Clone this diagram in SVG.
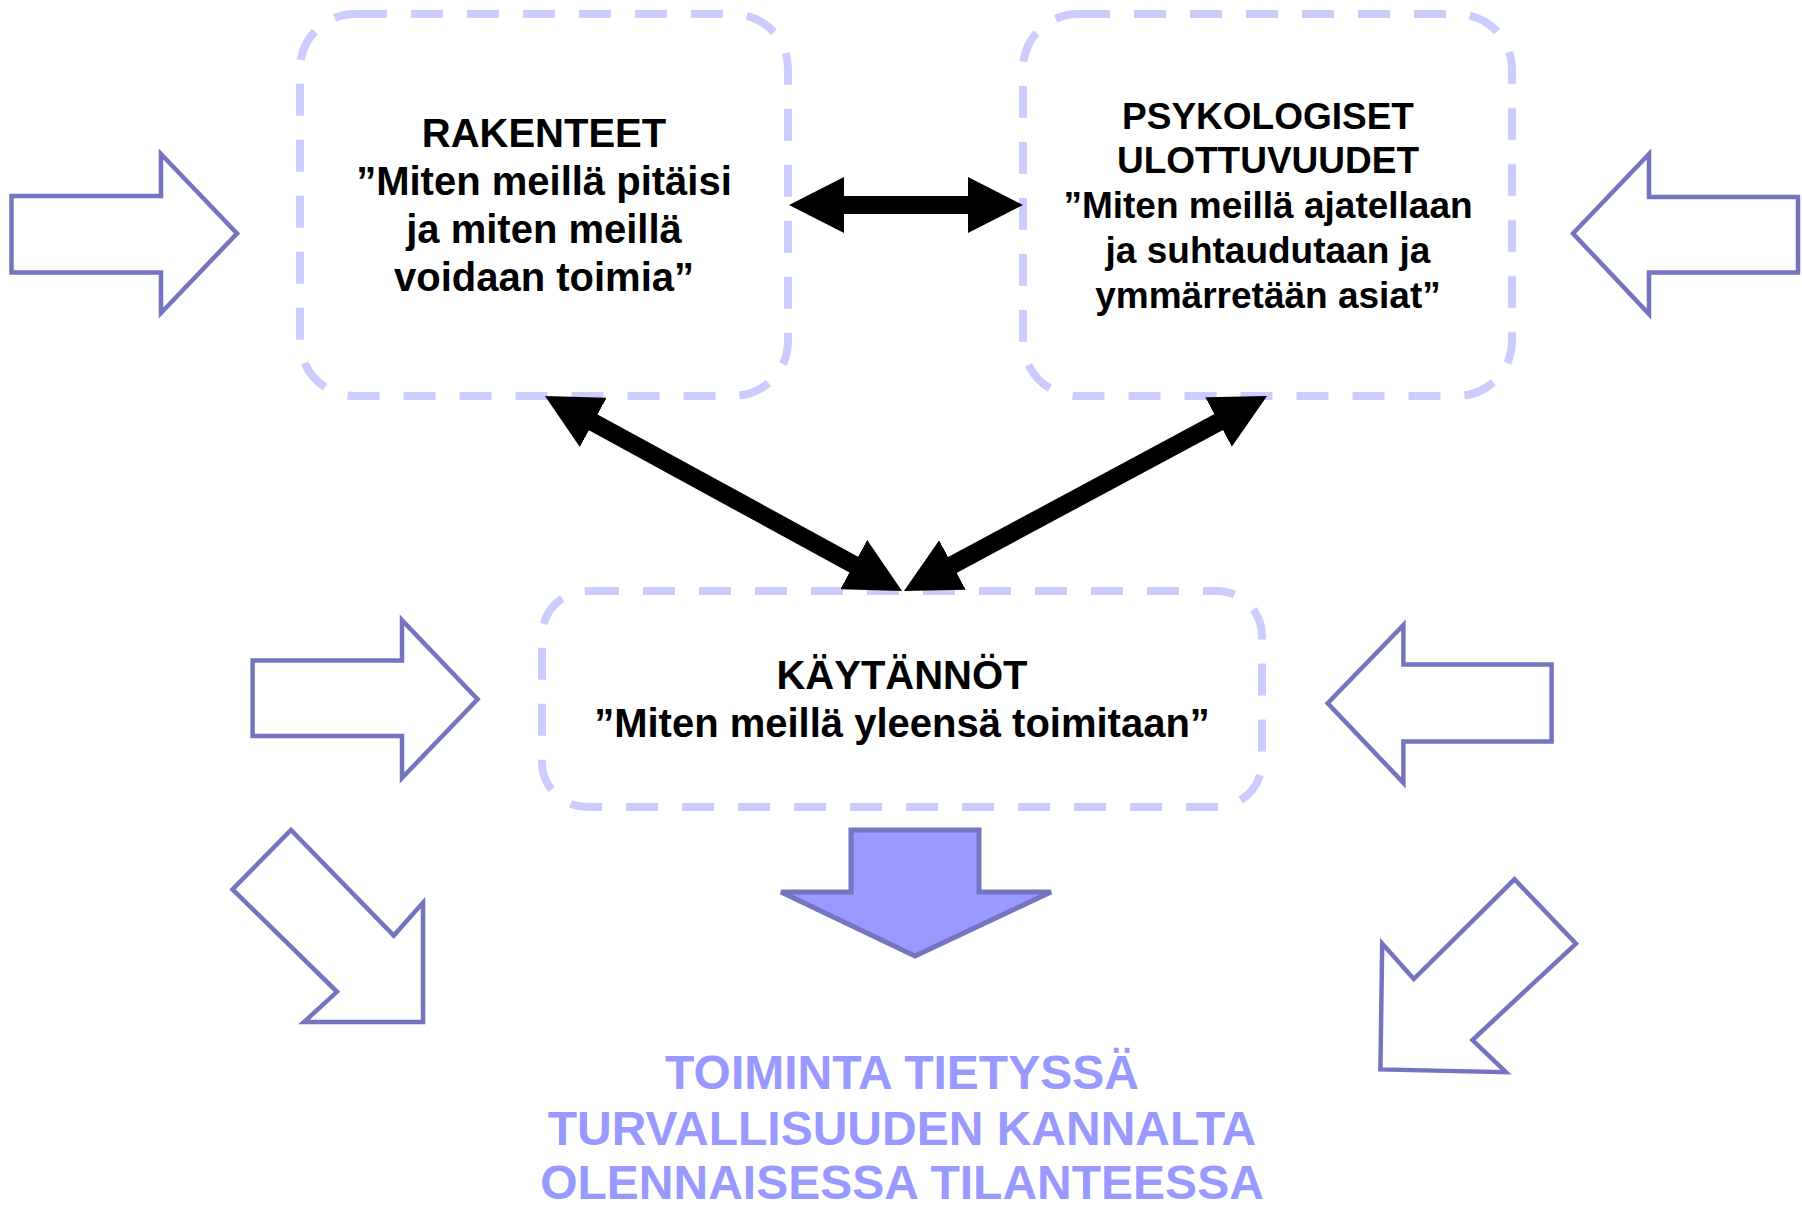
<svg xmlns="http://www.w3.org/2000/svg" width="1802" height="1210" viewBox="0 0 1802 1210">
<defs>
<style>
.box{fill:#FFFFFF;stroke:#CCCCFF;stroke-width:8;stroke-dasharray:32 24}
.t{font-family:"Liberation Sans",Arial,sans-serif;font-weight:bold;fill:#000000;text-anchor:middle}
.blk{fill:#FFFFFF;stroke:#7474C0;stroke-width:4.5;stroke-linejoin:miter}
.down{fill:#9999FF;stroke:#7474C0;stroke-width:5}
.con{stroke:#000000;stroke-width:18;fill:none;marker-start:url(#ah);marker-end:url(#ah)}
.res{font-family:"Liberation Sans",Arial,sans-serif;font-weight:bold;fill:#9999FF;text-anchor:middle;font-size:48px}
</style>
<marker id="ah" viewBox="0 0 55 56" refX="25" refY="28" markerWidth="55" markerHeight="56" markerUnits="userSpaceOnUse" orient="auto-start-reverse">
<path d="M0,0 L55,28 L0,56 Z" fill="#000000"/>
</marker>
</defs>
<rect width="1802" height="1210" fill="#FFFFFF"/>

<g id="input-arrows">
<polygon class="blk" points="11.5,196 161,196 161,154 237,233.5 161,313 161,272.5 11.5,272.5"/>
<polygon class="blk" points="1798,197 1649,197 1649,154 1573,233.5 1649,314 1649,272.5 1798,272.5"/>
<polygon class="blk" points="252.6,660.4 402,660.4 402,620.2 477.6,699.3 402,778 402,735.9 252.6,735.9"/>
<polygon class="blk" points="1551.6,664.4 1403.4,664.4 1403.4,625 1327.7,703.3 1403.4,782.9 1403.4,741.5 1551.6,741.5"/>
<polygon class="blk" points="291,830 393.8,935.6 423,902.6 423,1022 304,1022 337,991.8 232.5,889.4"/>
<polygon class="blk" points="1514.5,879.3 1576,943.6 1472.5,1040 1505.9,1072.2 1380.4,1069.4 1382.2,943.6 1413.8,979"/>
</g>

<g id="rakenteet">
<rect class="box" x="300" y="14" width="488" height="382" rx="55" ry="55"/>
<text class="t" font-size="40" x="544"><tspan x="544" y="147">RAKENTEET</tspan><tspan x="544" y="195">”Miten meillä pitäisi</tspan><tspan x="544" y="243">ja miten meillä</tspan><tspan x="544" y="291">voidaan toimia”</tspan></text>
</g>

<g id="psykologiset">
<rect class="box" x="1023" y="14" width="489" height="382" rx="55" ry="55"/>
<text class="t" font-size="37" x="1268"><tspan x="1268" y="128.5">PSYKOLOGISET</tspan><tspan x="1268" y="173.3">ULOTTUVUUDET</tspan><tspan x="1268" y="218">”Miten meillä ajatellaan</tspan><tspan x="1268" y="262.9">ja suhtaudutaan ja</tspan><tspan x="1268" y="307.7">ymmärretään asiat”</tspan></text>
</g>

<g id="kaytannot">
<rect class="box" x="542" y="591" width="720" height="216" rx="45" ry="45"/>
<text class="t" font-size="40" x="902"><tspan x="902" y="689">KÄYTÄNNÖT</tspan><tspan x="902" y="737">”Miten meillä yleensä toimitaan”</tspan></text>
</g>

<g id="tulos-nuoli">
<polygon class="down" points="851,830 979,830 979,892 1051,892 915,956 781,892 851,892"/>
</g>

<g id="toiminta">
<text class="res"><tspan x="902" y="1089">TOIMINTA TIETYSSÄ</tspan><tspan x="902" y="1145">TURVALLISUUDEN KANNALTA</tspan><tspan x="902" y="1199">OLENNAISESSA TILANTEESSA</tspan></text>
</g>

<g id="connectors">
<line class="con" x1="819" y1="205" x2="993" y2="205"/>
<line class="con" x1="571.3" y1="410.4" x2="875.7" y2="576.6"/>
<line class="con" x1="1240.6" y1="410.2" x2="930.4" y2="576.8"/>
</g>
</svg>
